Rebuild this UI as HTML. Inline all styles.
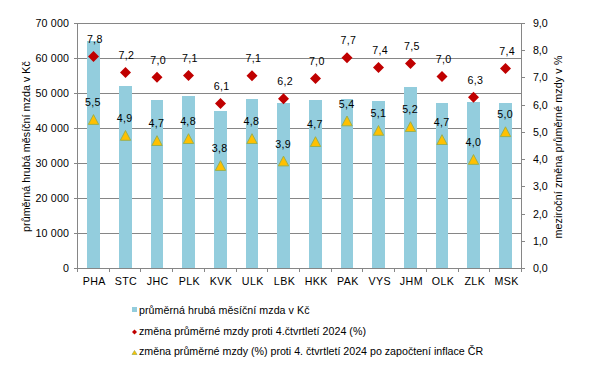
<!DOCTYPE html>
<html><head><meta charset="utf-8"><style>
html,body{margin:0;padding:0;background:#fff;}
svg{display:block;}
text{font-family:"Liberation Sans", sans-serif;font-size:10.667px;fill:#000;}
</style></head><body>
<svg width="590" height="365" viewBox="0 0 590 365">
<rect x="77" y="23" width="445" height="1" fill="#868686"/>
<rect x="77" y="58" width="445" height="1" fill="#868686"/>
<rect x="77" y="93" width="445" height="1" fill="#868686"/>
<rect x="77" y="128" width="445" height="1" fill="#868686"/>
<rect x="77" y="163" width="445" height="1" fill="#868686"/>
<rect x="77" y="198" width="445" height="1" fill="#868686"/>
<rect x="77" y="233" width="445" height="1" fill="#868686"/>
<rect x="77" y="268" width="445" height="1" fill="#868686"/>
<rect x="87" y="41" width="13" height="227" fill="#93CDDD"/>
<rect x="119" y="86" width="13" height="182" fill="#93CDDD"/>
<rect x="151" y="100" width="12" height="168" fill="#93CDDD"/>
<rect x="182" y="96" width="13" height="172" fill="#93CDDD"/>
<rect x="214" y="111" width="13" height="157" fill="#93CDDD"/>
<rect x="246" y="99" width="12" height="169" fill="#93CDDD"/>
<rect x="277" y="103" width="13" height="165" fill="#93CDDD"/>
<rect x="309" y="100" width="13" height="168" fill="#93CDDD"/>
<rect x="341" y="99" width="12" height="169" fill="#93CDDD"/>
<rect x="372" y="101" width="13" height="167" fill="#93CDDD"/>
<rect x="404" y="87" width="13" height="181" fill="#93CDDD"/>
<rect x="436" y="103" width="12" height="165" fill="#93CDDD"/>
<rect x="467" y="102" width="13" height="166" fill="#93CDDD"/>
<rect x="499" y="103" width="13" height="165" fill="#93CDDD"/>
<rect x="77" y="23" width="1" height="246" fill="#868686"/>
<rect x="521" y="23" width="1" height="246" fill="#868686"/>
<rect x="77" y="268" width="445" height="1" fill="#868686"/>
<rect x="74" y="23" width="3" height="1" fill="#868686"/>
<rect x="74" y="58" width="3" height="1" fill="#868686"/>
<rect x="74" y="93" width="3" height="1" fill="#868686"/>
<rect x="74" y="128" width="3" height="1" fill="#868686"/>
<rect x="74" y="163" width="3" height="1" fill="#868686"/>
<rect x="74" y="198" width="3" height="1" fill="#868686"/>
<rect x="74" y="233" width="3" height="1" fill="#868686"/>
<rect x="74" y="268" width="3" height="1" fill="#868686"/>
<rect x="522" y="23" width="3" height="1" fill="#868686"/>
<rect x="522" y="50" width="3" height="1" fill="#868686"/>
<rect x="522" y="77" width="3" height="1" fill="#868686"/>
<rect x="522" y="105" width="3" height="1" fill="#868686"/>
<rect x="522" y="132" width="3" height="1" fill="#868686"/>
<rect x="522" y="159" width="3" height="1" fill="#868686"/>
<rect x="522" y="186" width="3" height="1" fill="#868686"/>
<rect x="522" y="214" width="3" height="1" fill="#868686"/>
<rect x="522" y="241" width="3" height="1" fill="#868686"/>
<rect x="522" y="268" width="3" height="1" fill="#868686"/>
<rect x="77" y="268" width="1" height="4" fill="#868686"/>
<rect x="109" y="268" width="1" height="4" fill="#868686"/>
<rect x="140" y="268" width="1" height="4" fill="#868686"/>
<rect x="172" y="268" width="1" height="4" fill="#868686"/>
<rect x="204" y="268" width="1" height="4" fill="#868686"/>
<rect x="236" y="268" width="1" height="4" fill="#868686"/>
<rect x="267" y="268" width="1" height="4" fill="#868686"/>
<rect x="299" y="268" width="1" height="4" fill="#868686"/>
<rect x="331" y="268" width="1" height="4" fill="#868686"/>
<rect x="362" y="268" width="1" height="4" fill="#868686"/>
<rect x="394" y="268" width="1" height="4" fill="#868686"/>
<rect x="426" y="268" width="1" height="4" fill="#868686"/>
<rect x="458" y="268" width="1" height="4" fill="#868686"/>
<rect x="489" y="268" width="1" height="4" fill="#868686"/>
<rect x="521" y="268" width="1" height="4" fill="#868686"/>
<path d="M93.50 50.90L99.00 56.40L93.50 61.90L88.00 56.40Z" fill="#C00000"/>
<path d="M125.50 67.00L131.00 72.50L125.50 78.00L120.00 72.50Z" fill="#C00000"/>
<path d="M157.00 71.85L162.50 77.35L157.00 82.85L151.50 77.35Z" fill="#C00000"/>
<path d="M188.50 70.05L194.00 75.55L188.50 81.05L183.00 75.55Z" fill="#C00000"/>
<path d="M220.50 98.05L226.00 103.55L220.50 109.05L215.00 103.55Z" fill="#C00000"/>
<path d="M252.00 70.25L257.50 75.75L252.00 81.25L246.50 75.75Z" fill="#C00000"/>
<path d="M283.50 93.15L289.00 98.65L283.50 104.15L278.00 98.65Z" fill="#C00000"/>
<path d="M315.50 73.00L321.00 78.50L315.50 84.00L310.00 78.50Z" fill="#C00000"/>
<path d="M347.00 52.20L352.50 57.70L347.00 63.20L341.50 57.70Z" fill="#C00000"/>
<path d="M378.50 62.10L384.00 67.60L378.50 73.10L373.00 67.60Z" fill="#C00000"/>
<path d="M410.50 58.05L416.00 63.55L410.50 69.05L405.00 63.55Z" fill="#C00000"/>
<path d="M442.00 70.95L447.50 76.45L442.00 81.95L436.50 76.45Z" fill="#C00000"/>
<path d="M473.50 91.80L479.00 97.30L473.50 102.80L468.00 97.30Z" fill="#C00000"/>
<path d="M505.50 63.00L511.00 68.50L505.50 74.00L500.00 68.50Z" fill="#C00000"/>
<path d="M93.50 114.60L98.70 124.40L88.30 124.40Z" fill="#FFC000" stroke="#9BB050" stroke-width="1"/>
<path d="M125.50 130.50L130.70 140.30L120.30 140.30Z" fill="#FFC000" stroke="#9BB050" stroke-width="1"/>
<path d="M157.00 135.70L162.20 145.50L151.80 145.50Z" fill="#FFC000" stroke="#9BB050" stroke-width="1"/>
<path d="M188.50 133.70L193.70 143.50L183.30 143.50Z" fill="#FFC000" stroke="#9BB050" stroke-width="1"/>
<path d="M220.50 160.65L225.70 170.45L215.30 170.45Z" fill="#FFC000" stroke="#9BB050" stroke-width="1"/>
<path d="M252.00 133.70L257.20 143.50L246.80 143.50Z" fill="#FFC000" stroke="#9BB050" stroke-width="1"/>
<path d="M283.50 156.10L288.70 165.90L278.30 165.90Z" fill="#FFC000" stroke="#9BB050" stroke-width="1"/>
<path d="M315.50 136.70L320.70 146.50L310.30 146.50Z" fill="#FFC000" stroke="#9BB050" stroke-width="1"/>
<path d="M347.00 116.00L352.20 125.80L341.80 125.80Z" fill="#FFC000" stroke="#9BB050" stroke-width="1"/>
<path d="M378.50 125.50L383.70 135.30L373.30 135.30Z" fill="#FFC000" stroke="#9BB050" stroke-width="1"/>
<path d="M410.50 121.70L415.70 131.50L405.30 131.50Z" fill="#FFC000" stroke="#9BB050" stroke-width="1"/>
<path d="M442.00 134.70L447.20 144.50L436.80 144.50Z" fill="#FFC000" stroke="#9BB050" stroke-width="1"/>
<path d="M473.50 154.55L478.70 164.35L468.30 164.35Z" fill="#FFC000" stroke="#9BB050" stroke-width="1"/>
<path d="M505.50 126.80L510.70 136.60L500.30 136.60Z" fill="#FFC000" stroke="#9BB050" stroke-width="1"/>
<text x="94.76" y="43.10" text-anchor="middle" letter-spacing="0.3">7,8</text>
<text x="126.47" y="59.20" text-anchor="middle" letter-spacing="0.3">7,2</text>
<text x="158.19" y="64.05" text-anchor="middle" letter-spacing="0.3">7,0</text>
<text x="189.90" y="62.25" text-anchor="middle" letter-spacing="0.3">7,1</text>
<text x="221.61" y="90.25" text-anchor="middle" letter-spacing="0.3">6,1</text>
<text x="253.33" y="62.45" text-anchor="middle" letter-spacing="0.3">7,1</text>
<text x="285.04" y="85.35" text-anchor="middle" letter-spacing="0.3">6,2</text>
<text x="316.76" y="65.20" text-anchor="middle" letter-spacing="0.3">7,0</text>
<text x="348.47" y="44.40" text-anchor="middle" letter-spacing="0.3">7,7</text>
<text x="380.19" y="54.30" text-anchor="middle" letter-spacing="0.3">7,4</text>
<text x="411.90" y="50.25" text-anchor="middle" letter-spacing="0.3">7,5</text>
<text x="443.61" y="63.15" text-anchor="middle" letter-spacing="0.3">7,0</text>
<text x="475.33" y="84.00" text-anchor="middle" letter-spacing="0.3">6,3</text>
<text x="507.04" y="55.20" text-anchor="middle" letter-spacing="0.3">7,4</text>
<text x="92.86" y="106.10" text-anchor="middle" letter-spacing="0.3">5,5</text>
<text x="124.57" y="122.00" text-anchor="middle" letter-spacing="0.3">4,9</text>
<text x="156.29" y="127.20" text-anchor="middle" letter-spacing="0.3">4,7</text>
<text x="188.00" y="125.20" text-anchor="middle" letter-spacing="0.3">4,8</text>
<text x="219.71" y="152.15" text-anchor="middle" letter-spacing="0.3">3,8</text>
<text x="251.43" y="125.20" text-anchor="middle" letter-spacing="0.3">4,8</text>
<text x="283.14" y="147.60" text-anchor="middle" letter-spacing="0.3">3,9</text>
<text x="314.86" y="128.20" text-anchor="middle" letter-spacing="0.3">4,7</text>
<text x="346.57" y="107.50" text-anchor="middle" letter-spacing="0.3">5,4</text>
<text x="378.29" y="117.00" text-anchor="middle" letter-spacing="0.3">5,1</text>
<text x="410.00" y="113.20" text-anchor="middle" letter-spacing="0.3">5,2</text>
<text x="441.71" y="126.20" text-anchor="middle" letter-spacing="0.3">4,7</text>
<text x="473.43" y="146.05" text-anchor="middle" letter-spacing="0.3">4,0</text>
<text x="505.14" y="118.30" text-anchor="middle" letter-spacing="0.3">5,0</text>
<text x="69.2" y="27" text-anchor="end" letter-spacing="0.2">70 000</text>
<text x="69.2" y="62" text-anchor="end" letter-spacing="0.2">60 000</text>
<text x="69.2" y="97" text-anchor="end" letter-spacing="0.2">50 000</text>
<text x="69.2" y="132" text-anchor="end" letter-spacing="0.2">40 000</text>
<text x="69.2" y="167" text-anchor="end" letter-spacing="0.2">30 000</text>
<text x="69.2" y="202" text-anchor="end" letter-spacing="0.2">20 000</text>
<text x="69.2" y="237" text-anchor="end" letter-spacing="0.2">10 000</text>
<text x="69.2" y="272" text-anchor="end" letter-spacing="0.2">0</text>
<text x="532.9" y="27.0">9,0</text>
<text x="532.9" y="54.2">8,0</text>
<text x="532.9" y="81.4">7,0</text>
<text x="532.9" y="108.7">6,0</text>
<text x="532.9" y="135.9">5,0</text>
<text x="532.9" y="163.1">4,0</text>
<text x="532.9" y="190.3">3,0</text>
<text x="532.9" y="217.6">2,0</text>
<text x="532.9" y="244.8">1,0</text>
<text x="532.9" y="272.0">0,0</text>
<text x="94.26" y="285" text-anchor="middle" letter-spacing="0.4">PHA</text>
<text x="125.97" y="285" text-anchor="middle" letter-spacing="0.4">STC</text>
<text x="157.69" y="285" text-anchor="middle" letter-spacing="0.4">JHC</text>
<text x="189.40" y="285" text-anchor="middle" letter-spacing="0.4">PLK</text>
<text x="221.11" y="285" text-anchor="middle" letter-spacing="0.4">KVK</text>
<text x="252.83" y="285" text-anchor="middle" letter-spacing="0.4">ULK</text>
<text x="284.54" y="285" text-anchor="middle" letter-spacing="0.4">LBK</text>
<text x="316.26" y="285" text-anchor="middle" letter-spacing="0.4">HKK</text>
<text x="347.97" y="285" text-anchor="middle" letter-spacing="0.4">PAK</text>
<text x="379.69" y="285" text-anchor="middle" letter-spacing="0.4">VYS</text>
<text x="411.40" y="285" text-anchor="middle" letter-spacing="0.4">JHM</text>
<text x="443.11" y="285" text-anchor="middle" letter-spacing="0.4">OLK</text>
<text x="474.83" y="285" text-anchor="middle" letter-spacing="0.4">ZLK</text>
<text x="506.54" y="285" text-anchor="middle" letter-spacing="0.4">MSK</text>
<text transform="translate(30,146.5) rotate(-90)" text-anchor="middle" letter-spacing="0.065">průměrná hrubá měsíční mzda v Kč</text>
<text transform="translate(561.5,147) rotate(-90)" text-anchor="middle" letter-spacing="0.125">meziroční změna průměrné mzdy v %</text>
<rect x="132" y="307" width="5" height="5" fill="#93CDDD"/>
<text x="139" y="314" letter-spacing="0.055">průměrná hrubá měsíční mzda v Kč</text>
<path d="M134.5 329.5L137 332L134.5 334.5L132 332Z" fill="#C00000"/>
<text x="139" y="334.5" letter-spacing="0.044">změna průměrné mzdy proti 4.čtvrtletí 2024 (%)</text>
<path d="M134.5 350.5L137 354.5L132 354.5Z" fill="#FFC000" stroke="#9BB050" stroke-width="0.7"/>
<text x="139" y="355.4">změna průměrné mzdy (%) proti 4. čtvrtletí 2024 po započtení inflace ČR</text>
</svg>
</body></html>
